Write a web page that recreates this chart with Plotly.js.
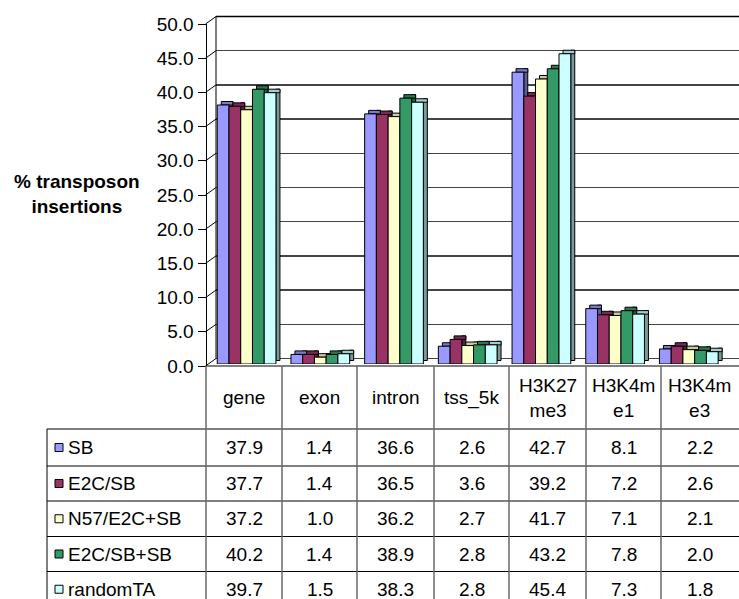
<!DOCTYPE html>
<html>
<head>
<meta charset="utf-8">
<script src="https://cdn.plot.ly/plotly-3.0.1.min.js"></script>
<style>
  html, body { margin: 0; padding: 0; background: #fff; }
  #chart { width: 739px; height: 599px; }
</style>
</head>
<body>
<div id="chart"></div>
<script>
// Categories and series values (% transposon insertions)
const categories = ['gene', 'exon', 'intron', 'tss_5k', 'H3K27me3', 'H3K4me1', 'H3K4me3'];
const headerLabels = ['gene', 'exon', 'intron', 'tss_5k', 'H3K27<br>me3', 'H3K4m<br>e1', 'H3K4m<br>e3'];
const seriesNames = ['SB', 'E2C/SB', 'N57/E2C+SB', 'E2C/SB+SB', 'randomTA'];
const sbValues = [37.9, 1.4, 36.6, 2.6, 42.7, 8.1, 2.2];
const e2cSbValues = [37.7, 1.4, 36.5, 3.6, 39.2, 7.2, 2.6];
const n57Values = [37.2, 1.0, 36.2, 2.7, 41.7, 7.1, 2.1];
const e2cSbSbValues = [40.2, 1.4, 38.9, 2.8, 43.2, 7.8, 2.0];
const randomTAValues = [39.7, 1.5, 38.3, 2.8, 45.4, 7.3, 1.8];
const yTickValues = [0, 5, 10, 15, 20, 25, 30, 35, 40, 45, 50];

const seriesValues = [sbValues, e2cSbValues, n57Values, e2cSbSbValues, randomTAValues];

// Face colours: front, top, side
const frontColors = ['#9999FF', '#993366', '#FFFFCC', '#339966', '#CCFFFF'];
const topColors   = ['#7A7ACC', '#7A2952', '#CCCCA3', '#297A52', '#A3CCCC'];
const sideColors  = ['#5C5C99', '#5C1F3D', '#99997A', '#1F5C3D', '#7A9999'];

// Page geometry helpers (pixels -> paper fractions)
const W = 739, H = 599;
const px = v => v / W;
const py = v => 1 - v / H;

// Vertical extents of the three layers (pixel rows for 0 and 50)
const FRONT = { zero: 366, top: 24 };
const BACK  = { zero: 358.5, top: 16.5 };
const BARS  = { zero: 364, top: 22.3 };
const axisX = 205.5, wallX = 216;

// Bar depth / layout in axis units
const catPx = (726 - 210.1) / 7;
const barW = 11.74 / catPx;
const firstOffset = -29.7 / catPx;
const depthX = 4 / catPx;
const depthY = 3.5 * 50 / (BARS.zero - BARS.top);

const font = 'Liberation Sans, Arial, sans-serif';
const traces = [];

// back-wall subplot (drawn first, underneath the bars)
traces.push({ type: 'scatter', x: [], y: [], xaxis: 'x', yaxis: 'y', hoverinfo: 'skip', showlegend: false });

seriesValues.forEach((vals, i) => {
  const off = firstOffset + i * barW;
  // side face
  traces.push({
    type: 'bar', x: categories, y: vals, base: vals.map(() => depthY),
    offset: off + barW, width: depthX,
    marker: { color: sideColors[i], line: { color: '#000', width: 1 } },
    xaxis: 'x2', yaxis: 'y2', showlegend: false, hoverinfo: 'skip'
  });
  // top face
  traces.push({
    type: 'bar', x: categories, y: vals.map(() => depthY), base: vals,
    offset: off + depthX, width: barW,
    marker: { color: topColors[i], line: { color: '#000', width: 1 } },
    xaxis: 'x2', yaxis: 'y2', showlegend: false, hoverinfo: 'skip'
  });
  // front face
  traces.push({
    type: 'bar', name: seriesNames[i], x: categories, y: vals,
    offset: off, width: barW,
    marker: { color: frontColors[i], line: { color: '#000', width: 1 } },
    xaxis: 'x2', yaxis: 'y2', showlegend: false, hoverinfo: 'skip'
  });
});

// front value axis
traces.push({ type: 'scatter', x: [], y: [], xaxis: 'x3', yaxis: 'y3', hoverinfo: 'skip', showlegend: false });

const shapes = [];
const line = (x0, y0, x1, y1, color, width) => shapes.push({
  type: 'line', xref: 'paper', yref: 'paper',
  x0: px(x0), y0: py(y0), x1: px(x1), y1: py(y1),
  line: { color: color, width: width }
});

// side-wall diagonals, one per tick
const frontScale = (FRONT.zero - FRONT.top) / 50;
const backScale = (BACK.zero - BACK.top) / 50;
yTickValues.forEach(v => {
  line(axisX, FRONT.zero - v * frontScale, wallX, BACK.zero - v * backScale, '#000', 1);
});
// back wall edges
line(wallX, BACK.top, wallX, BACK.zero, '#000', 1);
line(wallX, BACK.top, W, BACK.top, '#000', 1.5);

// data table
const colEdges = [206, 282, 357, 434, 509, 586, 661, 738];
const rowEdges = [429, 466, 501, 536.5, 571.5, 607];
const tableLeft = 47;
line(axisX, FRONT.zero, W, FRONT.zero, '#000', 1);
rowEdges.slice(0, 5).forEach(y => line(tableLeft, y, W, y, '#000', 1));
line(tableLeft, rowEdges[0], tableLeft, H, '#000', 1);
colEdges.slice(0, 7).forEach(x => line(x, FRONT.zero, x, H, '#6a6a6a', 1.5));

const annotations = [];
const headerMid = (FRONT.zero + rowEdges[0]) / 2;
headerLabels.forEach((lab, c) => {
  annotations.push({
    xref: 'paper', yref: 'paper', x: px((colEdges[c] + colEdges[c + 1]) / 2), y: py(headerMid),
    text: lab, showarrow: false, xanchor: 'center', yanchor: 'middle',
    font: { family: font, size: 19, color: '#000' }
  });
});
seriesValues.forEach((vals, r) => {
  const mid = (rowEdges[r] + rowEdges[r + 1]) / 2;
  // legend key
  shapes.push({
    type: 'rect', xref: 'paper', yref: 'paper',
    x0: px(55), x1: px(63), y0: py(mid - 4), y1: py(mid + 4),
    fillcolor: frontColors[r], line: { color: '#000', width: 1 }
  });
  annotations.push({
    xref: 'paper', yref: 'paper', x: px(66), y: py(mid),
    text: seriesNames[r], showarrow: false, xanchor: 'left', yanchor: 'middle',
    font: { family: font, size: 19, color: '#000' }
  });
  vals.forEach((v, c) => {
    annotations.push({
      xref: 'paper', yref: 'paper', x: px((colEdges[c] + colEdges[c + 1]) / 2), y: py(mid),
      text: v.toFixed(1), showarrow: false, xanchor: 'center', yanchor: 'middle',
      font: { family: font, size: 19, color: '#000' }
    });
  });
});

// value axis title
annotations.push({
  xref: 'paper', yref: 'paper', x: px(77), y: py(194),
  text: '<b>% transposon<br>insertions</b>', showarrow: false,
  xanchor: 'center', yanchor: 'middle', align: 'center',
  font: { family: font, size: 19, color: '#000' }
});

const layout = {
  width: W, height: H,
  margin: { l: 0, r: 0, t: 0, b: 0 },
  paper_bgcolor: '#fff', plot_bgcolor: 'rgba(0,0,0,0)',
  font: { family: font, size: 19, color: '#000' },
  showlegend: false,
  barmode: 'overlay',
  // back wall with gridlines
  xaxis: { domain: [px(wallX), 1], range: [0, 1], visible: false, anchor: 'y' },
  yaxis: {
    domain: [py(BACK.zero), py(BACK.top)], range: [0, 50], anchor: 'x',
    tickvals: yTickValues, showticklabels: false, ticks: '',
    showgrid: true, gridcolor: '#444', gridwidth: 1.5,
    zeroline: true, zerolinecolor: '#444', zerolinewidth: 1.5, showline: false
  },
  // bars
  xaxis2: {
    domain: [px(210.1), px(726)], type: 'category', categoryarray: categories,
    range: [-0.5, 6.5], visible: false, anchor: 'y2'
  },
  yaxis2: { domain: [py(BARS.zero), py(BARS.top)], range: [0, 50], visible: false, anchor: 'x2' },
  // front value axis with tick labels
  xaxis3: { domain: [px(axisX), 1], range: [0, 1], visible: false, anchor: 'y3' },
  yaxis3: {
    domain: [py(FRONT.zero), py(FRONT.top)], range: [0, 50],
    anchor: 'free', position: px(axisX),
    tickvals: yTickValues, ticktext: yTickValues.map(v => v.toFixed(1)),
    ticks: 'outside', ticklen: 8, tickwidth: 1, tickcolor: '#000',
    showline: true, linecolor: '#000', linewidth: 1,
    showgrid: false, zeroline: false,
    tickfont: { family: font, size: 19, color: '#000' }
  },
  shapes: shapes,
  annotations: annotations
};

Plotly.newPlot('chart', traces, layout, { staticPlot: true, displayModeBar: false });
</script>
</body>
</html>
